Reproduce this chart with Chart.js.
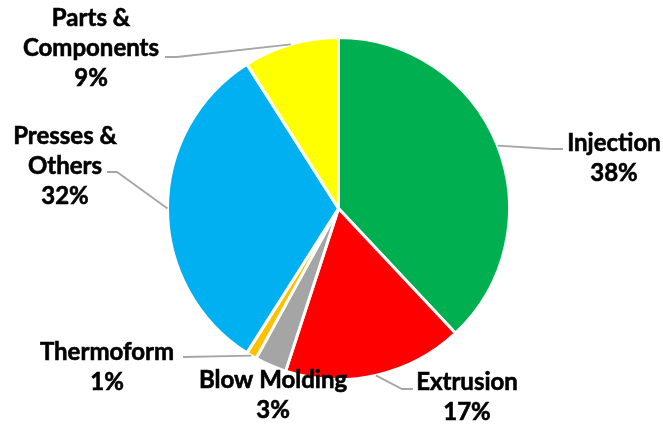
<!DOCTYPE html>
<html lang="en">
<head>
    <meta charset="UTF-8">
    <title>Machine share pie</title>
    <script src="https://cdn.jsdelivr.net/npm/chart.js@4.4.0/dist/chart.umd.min.js"></script>
    <style>
        html, body { margin: 0; padding: 0; background: #fff; }
        .chart-container { width: 663px; height: 425px; }
    </style>
</head>
<body>
    <div class="chart-container">
        <canvas id="pieChart" width="663" height="425"></canvas>
    </div>

    <script>
        // Data
        const categories = ['Injection', 'Extrusion', 'Blow Molding', 'Thermoform', 'Presses & Others', 'Parts & Components'];
        const shares = [38, 17, 3, 1, 32, 9];
        const sliceColors = ['#00B050', '#FF0000', '#A5A5A5', '#FFC000', '#00B0F0', '#FFFF00'];

        // Label text lines for each slice (category split as in the picture)
        const labelLines = [
            ['Injection'],
            ['Extrusion'],
            ['Blow Molding'],
            ['Thermoform'],
            ['Presses &', 'Others'],
            ['Parts &', 'Components']
        ];

        // Where each label block sits (center x, first line y) and where its leader line joins it
        const labelPlacement = [
            { x: 614, y: 143, join: { x: 563, y: 149 }, elbow: { x: 552, y: 149 } },
            { x: 467, y: 382, join: { x: 413, y: 389 }, elbow: { x: 402, y: 389 } },
            { x: 273, y: 380, join: null, elbow: null },
            { x: 107, y: 352, join: { x: 183, y: 357 }, elbow: null },
            { x: 65, y: 136, join: { x: 107, y: 172 }, elbow: { x: 117, y: 172 } },
            { x: 91, y: 18, join: { x: 165, y: 57 }, elbow: { x: 177, y: 57 } }
        ];

        const labelFont = 'bold 24px Lato, "Open Sans", sans-serif';
        const lineHeight = 30;

        const pieLabels = {
            id: 'pieLabels',
            afterDatasetsDraw(chart) {
                const ctx = chart.ctx;
                const arcs = chart.getDatasetMeta(0).data;
                ctx.save();
                arcs.forEach((arc, i) => {
                    const p = labelPlacement[i];
                    const mid = (arc.startAngle + arc.endAngle) / 2;
                    const r = arc.outerRadius;
                    const ax = arc.x + Math.cos(mid) * r;
                    const ay = arc.y + Math.sin(mid) * r;

                    if (p.join) {
                        ctx.strokeStyle = '#A6A6A6';
                        ctx.lineWidth = 1.8;
                        ctx.beginPath();
                        ctx.moveTo(p.join.x, p.join.y);
                        if (p.elbow) ctx.lineTo(p.elbow.x, p.elbow.y);
                        ctx.lineTo(ax, ay);
                        ctx.stroke();
                    }

                    const lines = labelLines[i].concat([shares[i] + '%']);
                    ctx.fillStyle = '#000';
                    ctx.strokeStyle = '#000';
                    ctx.lineWidth = 0.6;
                    ctx.font = labelFont;
                    ctx.textAlign = 'center';
                    ctx.textBaseline = 'middle';
                    lines.forEach((t, k) => {
                        ctx.fillText(t, p.x, p.y + k * lineHeight);
                        ctx.strokeText(t, p.x, p.y + k * lineHeight); // a bit heavier, like the original
                    });
                });
                ctx.restore();
            }
        };

        const ctx = document.getElementById('pieChart').getContext('2d');
        new Chart(ctx, {
            type: 'pie',
            data: {
                labels: categories,
                datasets: [{
                    data: shares,
                    backgroundColor: sliceColors,
                    borderColor: '#ffffff',
                    borderWidth: 3
                }]
            },
            options: {
                responsive: false,
                animation: false,
                radius: 171,
                layout: { padding: { top: 37, bottom: 45, left: 168, right: 154 } },
                plugins: {
                    legend: { display: false },
                    tooltip: { enabled: false }
                }
            },
            plugins: [pieLabels]
        });
    </script>
</body>
</html>
